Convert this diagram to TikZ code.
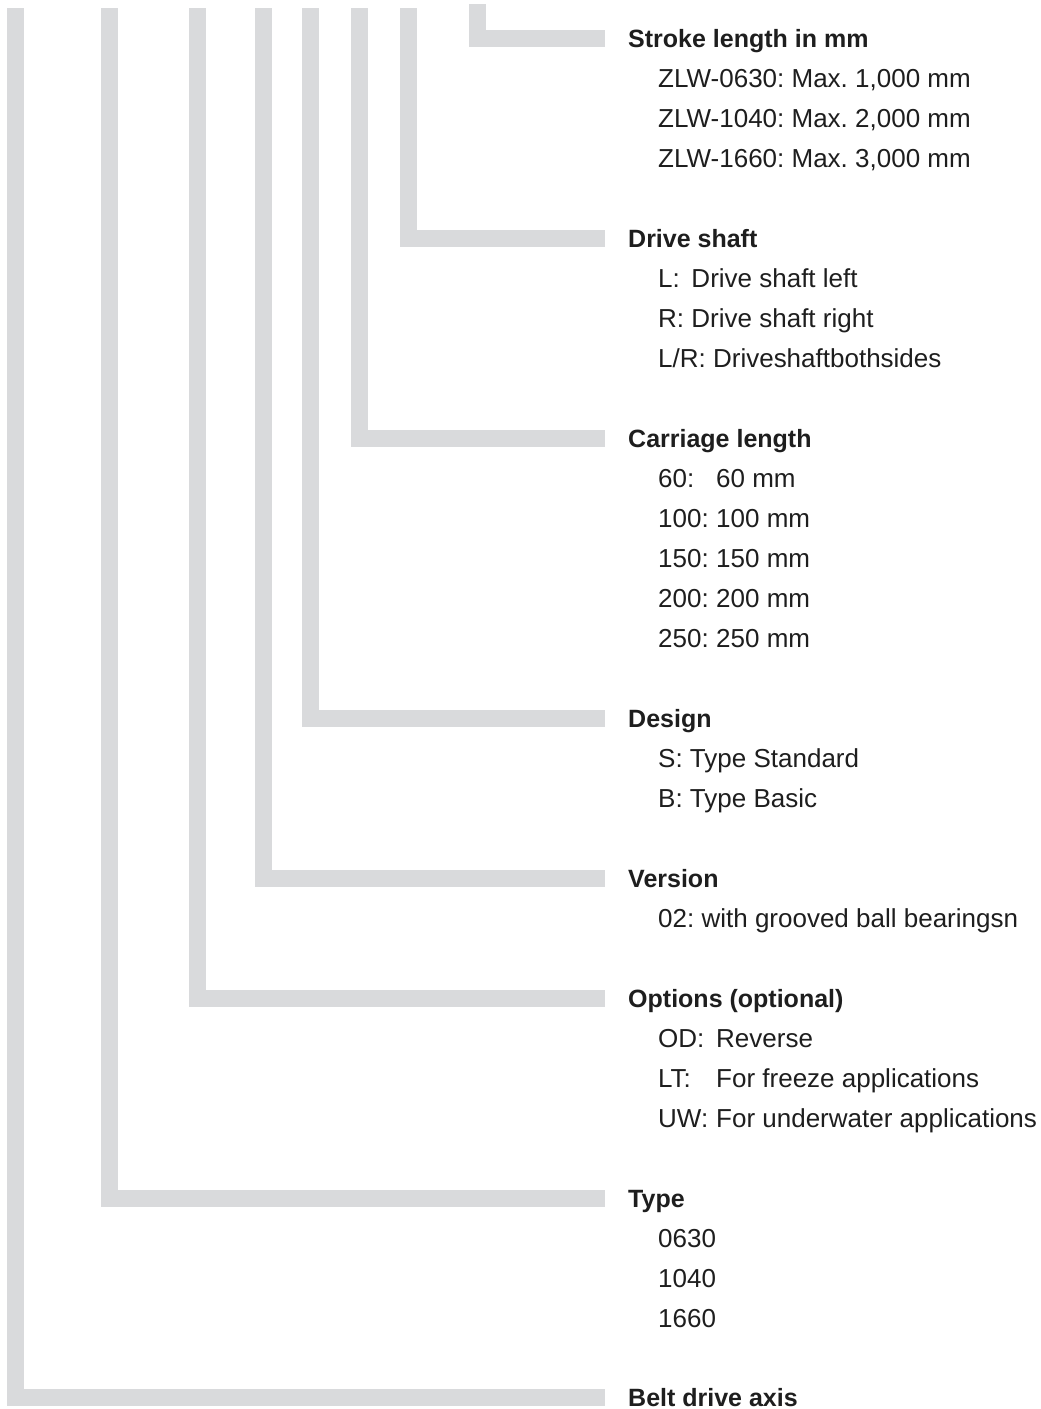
\documentclass[tikz,border=0pt]{standalone}
\usepackage{fontspec}
\setmainfont{Liberation Sans}
\frenchspacing
\definecolor{legGray}{RGB}{217,218,220}
\definecolor{textBlack}{RGB}{30,30,30}
\tikzstyle{head} = [anchor=west, inner sep=0pt, text height=18pt, text depth=0pt,
                    text=textBlack, font=\fontsize{25}{30}\selectfont\bfseries]
\tikzstyle{item} = [anchor=base west, inner sep=0pt, text=textBlack,
                    font=\fontsize{26}{30}\selectfont]
\tikzstyle{leg} = [draw=legGray, line width=17pt, line cap=butt, line join=miter]
\newcommand{\keycol}[2]{\makebox[#1][l]{#2}}

\begin{document}
\begin{tikzpicture}[x=1pt, y=-1pt]

% background
\useasboundingbox[fill=white] (0,0) rectangle (1041,1409);

% headings
\path (628,  38) node [head] (stroke)   {Stroke length in mm};
\path (628, 238) node [head] (drive)    {Drive shaft};
\path (628, 438) node [head] (carriage) {Carriage length};
\path (628, 718) node [head] (design)   {Design};
\path (628, 878) node [head] (version)  {Version};
\path (628, 998) node [head] (options)  {Options (optional)};
\path (628,1198) node [head] (type)     {Type};
\path (628,1397) node [head] (belt)     {Belt drive axis};

% entries
\path (658, 87) node [item] (stroke1) {ZLW-0630: Max. 1,000 mm}
  -- ++(0, 40) node [item] (stroke2) {ZLW-1040: Max. 2,000 mm}
  -- ++(0, 40) node [item] (stroke3) {ZLW-1660: Max. 3,000 mm};

\path (658, 287) node [item] (drive1) {\keycol{1.28em}{L:}Drive shaft left}
  -- ++(0, 40) node [item] (drive2) {\keycol{1.28em}{R:}Drive shaft right}
  -- ++(0, 40) node [item] (drive3) {L/R: Driveshaftbothsides};

\path (658, 487) node [item] (carr1) {\keycol{2.23em}{60:}60 mm}
  -- ++(0, 40) node [item] (carr2) {\keycol{2.23em}{100:}100 mm}
  -- ++(0, 40) node [item] (carr3) {\keycol{2.23em}{150:}150 mm}
  -- ++(0, 40) node [item] (carr4) {\keycol{2.23em}{200:}200 mm}
  -- ++(0, 40) node [item] (carr5) {\keycol{2.23em}{250:}250 mm};

\path (658, 767) node [item] (design1) {S: Type Standard}
  -- ++(0, 40) node [item] (design2) {B: Type Basic};

\path (658, 927) node [item] (version1) {02: with grooved ball bearingsn};

\path (658,1047) node [item] (opt1) {\keycol{2.23em}{OD:}Reverse}
  -- ++(0, 40) node [item] (opt2) {\keycol{2.23em}{LT:}For freeze applications}
  -- ++(0, 40) node [item] (opt3) {\keycol{2.23em}{UW:}For underwater applications};

\path (658,1247) node [item] (type1) {0630}
  -- ++(0, 40) node [item] (type2) {1040}
  -- ++(0, 40) node [item] (type3) {1660};

% leg tops
\coordinate (strokeTop)   at (477,   4);
\coordinate (driveTop)    at (408.5, 8);
\coordinate (carriageTop) at (359.5, 8);
\coordinate (designTop)   at (310,   8);
\coordinate (versionTop)  at (263.5, 8);
\coordinate (optionsTop)  at (197,   8);
\coordinate (typeTop)     at (109.5, 8);
\coordinate (beltTop)     at (15.5,  8);

% add legs
\draw[leg] (strokeTop)   |- ([xshift=-23pt]stroke.west);
\draw[leg] (driveTop)    |- ([xshift=-23pt]drive.west);
\draw[leg] (carriageTop) |- ([xshift=-23pt]carriage.west);
\draw[leg] (designTop)   |- ([xshift=-23pt]design.west);
\draw[leg] (versionTop)  |- ([xshift=-23pt]version.west);
\draw[leg] (optionsTop)  |- ([xshift=-23pt]options.west);
\draw[leg] (typeTop)     |- ([xshift=-23pt]type.west);
\draw[leg] (beltTop)     |- ([xshift=-23pt]belt.west);

\end{tikzpicture}
\end{document}
